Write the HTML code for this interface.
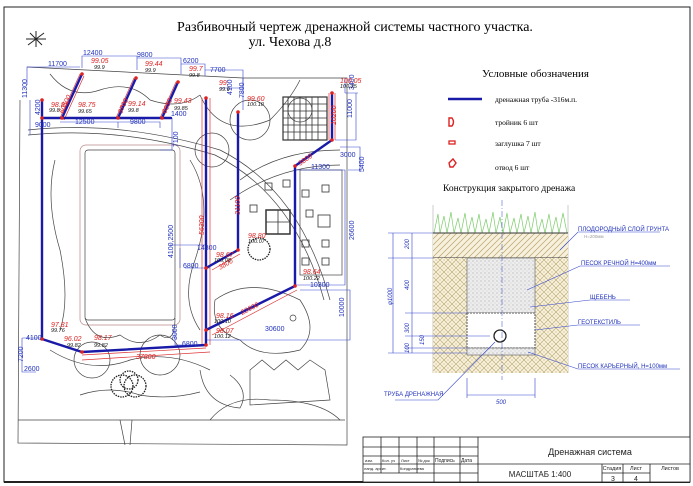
<!DOCTYPE html>
<html><head><meta charset="utf-8"><style>
html,body{margin:0;padding:0;background:#fff}
svg{display:block}
.s{font-family:"Liberation Serif",serif}
.a{font-family:"Liberation Sans",sans-serif}
.b{fill:#2233bb;font-family:"Liberation Sans",sans-serif;font-size:7px}
.r{fill:#dd2222;font-family:"Liberation Sans",sans-serif;font-size:7px;font-style:italic}
.k{fill:#111;font-family:"Liberation Sans",sans-serif;font-size:5.5px;font-style:italic}
.p{stroke:#1a1aa8;stroke-width:2.4;fill:none;stroke-linecap:round}
.g{stroke:#444;stroke-width:.7;fill:none}
.d{stroke:#3344cc;stroke-width:.6;fill:none}
.bl{fill:#2233bb;font-family:"Liberation Sans",sans-serif;font-size:6px}
</style></head><body>
<svg width="693" height="486" viewBox="0 0 693 486" xmlns="http://www.w3.org/2000/svg">
<defs>
<pattern id="hx" width="6" height="6" patternUnits="userSpaceOnUse">
<rect width="6" height="6" fill="#f6f0dc"/>
<path d="M0 6L6 0M-2 2L2 -2M4 8L8 4" stroke="#b9a46a" stroke-width=".7"/>
</pattern>
<pattern id="hw" width="8" height="8" patternUnits="userSpaceOnUse">
<rect width="8" height="8" fill="#f7f1de"/>
<path d="M0 4L4 0L8 4L4 8Z" stroke="#bba870" stroke-width=".6" fill="none"/>
<path d="M0 0L8 8M8 0L0 8" stroke="#d0c08c" stroke-width=".4"/>
</pattern>
<pattern id="dt" width="4" height="4" patternUnits="userSpaceOnUse">
<rect width="4" height="4" fill="#ededed"/><circle cx="1" cy="1" r=".5" fill="#888"/><circle cx="3" cy="3" r=".4" fill="#999"/>
</pattern>
</defs>
<rect x="4" y="7" width="686" height="475" fill="none" stroke="#222" stroke-width="1"/>
<line x1="4" y1="482" x2="690" y2="482" stroke="#222" stroke-width="2"/>
<text x="355" y="31" text-anchor="middle" class="s" font-size="14">Разбивочный чертеж дренажной системы частного участка.</text>
<text x="290" y="46" text-anchor="middle" class="s" font-size="14">ул. Чехова д.8</text>
<g stroke="#222" stroke-width="1"><line x1="28" y1="45" x2="44" y2="33"/><line x1="30" y1="33" x2="42" y2="45"/><line x1="36" y1="31" x2="36" y2="47"/><line x1="26" y1="39" x2="46" y2="39"/></g>
<g class="g">
<path d="M27 67L243 78L347 78L347 445L18 443L20 100"/>
<line x1="18" y1="420" x2="345" y2="420"/>
<path d="M28 130Q120 120 220 150Q300 190 330 300"/>
<path d="M28 135Q120 126 215 155Q295 195 324 300"/>
<path d="M50 74Q70 100 100 90Q130 80 150 100Q180 110 200 95"/>
<path d="M200 95Q220 140 270 120Q290 100 300 80"/>
<rect x="85" y="150" width="90" height="170" rx="3"/>
<rect x="80" y="145" width="100" height="180" rx="6" stroke="#b88"/>
<path d="M85 318Q95 345 120 335Q140 350 160 335Q175 345 175 318"/>
<path d="M55 160Q45 200 60 250Q70 300 60 330"/>
<path d="M190 160Q215 200 195 260Q180 300 200 330"/>
<path d="M50 350Q90 375 130 360Q170 350 210 370"/>
<circle cx="92" cy="360" r="18"/><circle cx="160" cy="355" r="20"/>
<path d="M80 395Q110 385 140 395Q170 400 200 392"/>
<path d="M215 300Q250 275 300 300Q320 330 300 350Q260 360 240 340Q210 330 215 300Z"/>
<circle cx="293" cy="318" r="3"/>
<path d="M250 370L262 360L274 370L286 360L298 370L310 360L325 370L330 400L250 405Z"/>
<path d="M200 370Q205 405 240 408Q250 390 230 375"/>
<path d="M210 420Q230 395 270 400Q320 400 340 420"/>
<path d="M250 100A20 20 0 1 0 250 140A20 20 0 1 0 250 100Z"/>
<circle cx="212" cy="150" r="17"/>
<path d="M240 180Q280 150 340 150"/>
<path d="M230 200Q280 165 340 165"/>
<circle cx="300" cy="110" r="12"/>
<rect x="300" y="170" width="42" height="105"/>
<path d="M120 420L125 445M132 420L130 445"/>
</g>
<g fill="none" stroke="#333" stroke-width=".8">
<rect x="283" y="97" width="44" height="43" stroke-width="1.2"/>
<path d="M288 97V140M294 97V140M300 97V140M306 97V140M312 97V140M318 97V140M283 104H327M283 111H327M283 118H327M283 125H327M283 132H327"/>
<rect x="266" y="210" width="24" height="24" stroke-width="1.5"/><path d="M278 210V234M266 222H290"/>
<rect x="265" y="183" width="7" height="7"/><rect x="283" y="180" width="7" height="7"/><rect x="302" y="190" width="7" height="7"/><rect x="322" y="185" width="7" height="7"/>
<rect x="250" y="205" width="7" height="7"/><rect x="306" y="210" width="7" height="7"/><rect x="318" y="215" width="12" height="12"/>
<rect x="302" y="240" width="7" height="7"/><rect x="322" y="240" width="7" height="7"/><rect x="302" y="258" width="7" height="7"/><rect x="322" y="258" width="7" height="7"/>
</g>
<g fill="none" stroke="#222" stroke-width="1.3" stroke-dasharray="1.5 1">
<circle cx="259" cy="249" r="11"/><circle cx="122" cy="386" r="11"/><circle cx="135" cy="386" r="11"/><circle cx="129" cy="380" r="9"/>
</g>
<g fill="none" stroke="#dd3333" stroke-width=".7">
<path d="M202 98V345M210 98V345M335 93V140M329 93V140M82 355L206 348M82 360L210 352"/>
<path d="M60 118L80 74M64 120L84 76M116 118L134 78M160 118L176 82M212 270L240 254M212 335L297 290"/>
</g>
<g class="d">
<path d="M27 85V67H80M82 68V56H137V70M137 58H181V74M181 64H205V76M205 70H243V88H220"/>
<path d="M30 100V135M42 125V100M60 122H118V128M118 122H160V128M172 118V150H160"/>
<path d="M243 78V110M345 78V93M345 93H358M356 93V140H335M340 147H360V170H348"/>
<path d="M295 170H345V285H295M300 290H350V340H206"/>
<path d="M170 245H206M185 268H210M180 248V268"/>
<path d="M22 338H42M22 338V372H36"/>
<path d="M175 330V345H206"/>
</g>
<g class="p">
<path d="M42 118H171"/>
<path d="M62 118L82 74M118 118L136 78M162 118L178 82"/>
<path d="M42 100V339L82 352L206 345"/>
<path d="M206 98V345"/>
<path d="M238 112V250L206 268"/>
<path d="M206 330L295 286V166L332 140V93"/>
</g>
<g fill="#dd2222">
<circle cx="42" cy="118" r="1.8"/><circle cx="62" cy="118" r="1.8"/><circle cx="118" cy="118" r="1.8"/><circle cx="162" cy="118" r="1.8"/><circle cx="82" cy="74" r="1.8"/><circle cx="136" cy="78" r="1.8"/><circle cx="178" cy="82" r="1.8"/><circle cx="42" cy="100" r="1.8"/><circle cx="206" cy="98" r="1.8"/><circle cx="238" cy="112" r="1.8"/><circle cx="332" cy="93" r="1.8"/><circle cx="332" cy="140" r="1.8"/><circle cx="295" cy="166" r="1.8"/><circle cx="295" cy="286" r="1.8"/><circle cx="206" cy="330" r="1.8"/><circle cx="206" cy="345" r="1.8"/><circle cx="206" cy="268" r="1.8"/><circle cx="238" cy="250" r="1.8"/><circle cx="42" cy="339" r="1.8"/><circle cx="82" cy="352" r="1.8"/>
</g>
<text x="48" y="66" class="b">11700</text><text x="83" y="55" class="b">12400</text><text x="137" y="57" class="b">9800</text><text x="183" y="63" class="b">6200</text><text x="210" y="72" class="b">7700</text>
<text x="75" y="124" class="b">12500</text><text x="130" y="124" class="b">9800</text><text x="35" y="127" class="b">9000</text>
<text x="171" y="116" class="b">1400</text>
<text class="b" transform="translate(27,98) rotate(-90)">11300</text>
<text class="b" transform="translate(40,115) rotate(-90)">4200</text>
<text class="b" transform="translate(178,147) rotate(-90)">7100</text>
<text class="b" transform="translate(244,98) rotate(-90)">7800</text>
<text class="b" transform="translate(232,95) rotate(-90)">4100</text>
<text class="b" transform="translate(354,90) rotate(-90)">3400</text>
<text class="b" transform="translate(352,118) rotate(-90)">11000</text>
<text class="b" transform="translate(364,172) rotate(-90)">5400</text>
<text class="b" transform="translate(354,240) rotate(-90)">26600</text>
<text class="b" transform="translate(344,317) rotate(-90)">10000</text>
<text class="b" transform="translate(173,258) rotate(-90)">4100,2500</text>
<text class="b" transform="translate(177,340) rotate(-90)">3000</text>
<text class="b" transform="translate(23,362) rotate(-90)">7200</text>
<text x="340" y="157" class="b">3000</text><text x="311" y="169" class="b">11300</text>
<text x="197" y="250" class="b">14800</text><text x="183" y="268" class="b">6800</text>
<text x="310" y="287" class="b">10300</text><text x="265" y="331" class="b">30600</text>
<text x="182" y="346" class="b">6800</text><text x="26" y="340" class="b">4100</text><text x="24" y="371" class="b">2600</text>
<text class="r" transform="translate(63,114) rotate(-65)">60500</text>
<text class="r" transform="translate(122,114) rotate(-66)">9700</text>
<text class="r" transform="translate(166,114) rotate(-66)">6650</text>
<text class="r" transform="translate(204,235) rotate(-90)">56300</text>
<text class="r" transform="translate(240,215) rotate(-90)">31100</text>
<text class="r" transform="translate(336,125) rotate(-90)">10200</text>
<text class="r" transform="translate(300,166) rotate(-35)">3800</text>
<text class="r" transform="translate(220,270) rotate(-30)">3800</text>
<text class="r" transform="translate(242,315) rotate(-27)">22600</text>
<text x="136" y="359" class="r">37800</text>
<text x="91" y="63" class="r">99.05</text><text x="94" y="69" class="k">99.9</text>
<text x="145" y="66" class="r">99.44</text><text x="145" y="72" class="k">99.9</text>
<text x="189" y="71" class="r">99.7</text><text x="189" y="77" class="k">99.8</text>
<text x="219" y="85" class="r">99.</text><text x="219" y="91" class="k">99.9</text>
<text x="247" y="101" class="r">99.60</text><text x="247" y="106" class="k">100.10</text>
<text x="340" y="83" class="r">100.05</text><text x="340" y="88" class="k">100.25</text>
<text x="51" y="107" class="r">98.87</text><text x="49" y="112" class="k">99.8</text>
<text x="78" y="107" class="r">98.75</text><text x="78" y="113" class="k">99.65</text>
<text x="128" y="106" class="r">99.14</text><text x="128" y="112" class="k">99.8</text>
<text x="174" y="103" class="r">99.43</text><text x="174" y="110" class="k">99.85</text>
<text x="248" y="238" class="r">98.80</text><text x="248" y="243" class="k">100.07</text>
<text x="216" y="257" class="r">98.67</text><text x="214" y="262" class="k">100.08</text>
<text x="303" y="274" class="r">98.64</text><text x="303" y="280" class="k">100.22</text>
<text x="216" y="318" class="r">98.16</text><text x="214" y="323" class="k">100.10</text>
<text x="216" y="333" class="r">98.07</text><text x="214" y="338" class="k">100.12</text>
<text x="51" y="327" class="r">97.81</text><text x="51" y="332" class="k">99.76</text>
<text x="64" y="341" class="r">96.02</text><text x="67" y="347" class="k">99.82</text>
<text x="94" y="340" class="r">98.17</text><text x="94" y="347" class="k">99.82</text>
<text x="482" y="77" class="s" font-size="11">Условные обозначения</text>
<line x1="448" y1="99" x2="482" y2="99" stroke="#1a1aa8" stroke-width="2.4"/>
<text x="495" y="102" class="s" font-size="7.5">дренажная труба -316м.п.</text>
<path d="M449 118V126H452Q455 122 452 118Z" fill="none" stroke="#dd2222" stroke-width="1.4"/>
<text x="495" y="125" class="s" font-size="7.5">тройник 6 шт</text>
<rect x="449" y="141" width="6" height="3" fill="none" stroke="#dd2222" stroke-width="1.3"/>
<text x="495" y="146" class="s" font-size="7.5">заглушка 7 шт</text>
<path d="M449 163L453 159L456 163L453 167L450 167Z" fill="none" stroke="#dd2222" stroke-width="1.4"/>
<text x="495" y="170" class="s" font-size="7.5">отвод 6 шт</text>
<text x="443" y="191" class="s" font-size="9.5">Конструкция закрытого дренажа</text>
<line x1="433" y1="205" x2="433" y2="373" stroke="#aaa" stroke-width=".6"/>
<line x1="568" y1="205" x2="568" y2="373" stroke="#aaa" stroke-width=".6"/>
<g stroke="#7ccc6a" stroke-width=".7" fill="none">
<path d="M434 233L438 214L440 233L444 216L447 233L451 212L454 233L458 218L461 233L465 213L468 233L472 217L475 233L479 214L482 233L486 219L489 233L493 212L496 233L500 217L503 233L507 213L510 233L514 218L517 233L521 214L524 233L528 216L531 233L535 212L538 233L542 219L545 233L549 214L552 233L556 217L559 233L563 213L567 233"/>
</g>
<rect x="433" y="233" width="135" height="25" fill="url(#hx)"/>
<line x1="433" y1="233" x2="568" y2="233" stroke="#333" stroke-width=".9"/>
<line x1="433" y1="258" x2="568" y2="258" stroke="#333" stroke-width=".9"/>
<rect x="433" y="258" width="135" height="115" fill="url(#hw)"/>
<rect x="467" y="258" width="68" height="55" fill="url(#dt)" stroke="#555" stroke-width=".6"/>
<rect x="467" y="313" width="68" height="35" fill="#fff" stroke="#555" stroke-width="1" stroke-dasharray="2 1"/>
<rect x="467" y="348" width="68" height="7" fill="url(#dt)" stroke="#555" stroke-width=".6"/>
<circle cx="500" cy="336" r="6" fill="#fff" stroke="#222" stroke-width="1.3"/>
<line x1="502" y1="200" x2="502" y2="380" stroke="#3344cc" stroke-width=".5" stroke-dasharray="6 2 1 2"/>
<g stroke="#3344cc" stroke-width=".6" fill="none">
<path d="M393 233V353M412 233V353M388 233H433M388 258H433M405 313H467M405 336H490M405 348H467M388 353H467"/>
<path d="M467 378V398M535 378V398M467 395H535"/>
<path d="M560 250L578 232H660M527 290L580 266H670M530 307L590 300H630M535 330L578 325H640M528 352L578 369H680M395 400H438L495 342"/>
</g>
<g class="bl">
<text x="578" y="231">ПЛОДОРОДНЫЙ СЛОЙ ГРУНТА</text>
<text x="584" y="238" fill="#999" font-size="4.5">Н=200мм</text>
<text x="581" y="265">ПЕСОК РЕЧНОЙ Н=400мм</text>
<text x="590" y="299">ЩЕБЕНЬ</text>
<text x="578" y="324">ГЕОТЕКСТИЛЬ</text>
<text x="578" y="368">ПЕСОК КАРЬЕРНЫЙ, Н=100мм</text>
<text x="384" y="396">ТРУБА ДРЕНАЖНАЯ</text>
<text x="496" y="404" font-style="italic">500</text>
</g>
<g class="bl" font-size="5" font-style="italic">
<text transform="translate(392,305) rotate(-90)">φ1000</text>
<text transform="translate(409,249) rotate(-90)">200</text>
<text transform="translate(409,290) rotate(-90)">400</text>
<text transform="translate(409,333) rotate(-90)">300</text>
<text transform="translate(424,345) rotate(-90)">150</text>
<text transform="translate(409,353) rotate(-90)">100</text>
</g>
<g stroke="#222" stroke-width=".8" fill="none">
<rect x="363" y="437" width="327" height="45" fill="#fff"/>
<path d="M478 437V482M363 447H478M363 456H478M363 464H690M363 473H478"/>
<path d="M381 437V473M399 437V473M417 437V473M434 437V482M460 437V482"/>
<path d="M602 464V482M623 464V482M650 464V482M602 473H650"/>
</g>
<g class="a" fill="#222">
<text x="590" y="455" font-size="9" text-anchor="middle">Дренажная система</text>
<text x="540" y="477" font-size="8" text-anchor="middle">МАСШТАБ 1:400</text>
<text x="612" y="470" font-size="5.5" text-anchor="middle">Стадия</text>
<text x="636" y="470" font-size="5.5" text-anchor="middle">Лист</text>
<text x="670" y="470" font-size="5.5" text-anchor="middle">Листов</text>
<text x="613" y="481" font-size="7" text-anchor="middle">3</text>
<text x="636" y="481" font-size="7" text-anchor="middle">4</text>
<g font-size="4">
<text x="365" y="462">изм.</text><text x="382" y="462">Кол. уч</text><text x="401" y="462">Лист</text><text x="418" y="462">№ док</text><text x="435" y="462" font-size="5">Подпись</text><text x="461" y="462" font-size="5">Дата</text>
<text x="364" y="470">ланд. архит.</text><text x="400" y="470">Кондратьева</text>
</g>
</g>
</svg>
</body></html>
